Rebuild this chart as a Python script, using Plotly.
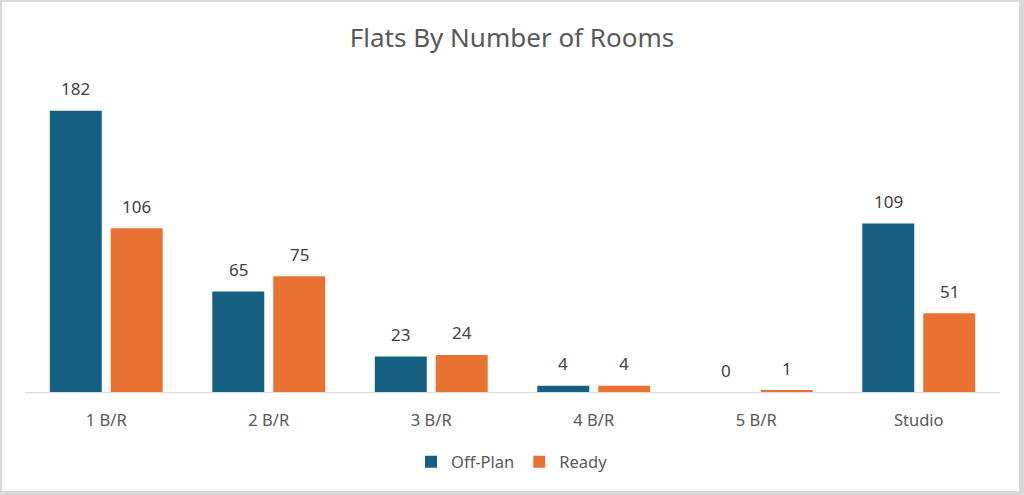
import plotly.graph_objects as go

categories = ["1 B/R", "2 B/R", "3 B/R", "4 B/R", "5 B/R", "Studio"]
off_plan = [182, 65, 23, 4, 0, 109]
ready = [106, 75, 24, 4, 1, 51]
series_names = ["Off-Plan", "Ready"]
colors = ["#156082", "#E97132"]

FONT = "Noto Sans"
W, H = 1024, 495
L, R, T, B = 25, 24, 83, 103
pw = W - L - R
ph = H - T - B

def px_to_paper_x(px):
    return (px - L) / pw

def py_to_paper_y(py):
    return (H - B - py) / ph

fig = go.Figure()
for name, vals, col in zip(series_names, [off_plan, ready], colors):
    fig.add_trace(go.Bar(x=categories, y=vals, name=name, marker_color=col,
                         marker_line_width=0))

annotations = []
for si, vals in enumerate([off_plan, ready]):
    shift = -30.5 if si == 0 else 30.5
    for c, v in zip(categories, vals):
        annotations.append(dict(x=c, y=v, xref="x", yref="y", text=str(v),
                                showarrow=False, xshift=shift, yshift=22,
                                yanchor="middle",
                                font=dict(family=FONT, size=17, color="#404040")))

fig.update_layout(
    width=W, height=H,
    margin=dict(l=L, r=R, t=T, b=B),
    paper_bgcolor="#D9D9D9",
    plot_bgcolor="white",
    barmode="group", bargap=0.25, bargroupgap=0.1475,
    title=dict(text="Flats By Number of Rooms", x=0.5, xanchor="center",
               y=1 - 38 / H, yanchor="middle",
               font=dict(family=FONT, size=26, color="#595959")),
    xaxis=dict(showgrid=False, showline=True, linecolor="#D9D9D9", linewidth=1,
               ticks="", ticklabelstandoff=13,
               tickfont=dict(family=FONT, size=16.5, color="#595959"),
               fixedrange=True),
    yaxis=dict(range=[0, 200], visible=False, showgrid=False, fixedrange=True),
    legend=dict(orientation="h", x=px_to_paper_x(512), xanchor="center",
                y=py_to_paper_y(462), yanchor="middle",
                font=dict(family=FONT, size=16.5, color="#595959"),
                bgcolor="rgba(0,0,0,0)"),
    annotations=annotations,
    shapes=[dict(type="rect", xref="paper", yref="paper",
                 x0=px_to_paper_x(2), x1=px_to_paper_x(1019),
                 y0=py_to_paper_y(491), y1=py_to_paper_y(2),
                 fillcolor="white", line_width=0, layer="below")],
)

fig.write_html("out.html", config={"displayModeBar": False},
               post_script="document.body.style.margin='0';document.body.style.overflow='hidden';")
